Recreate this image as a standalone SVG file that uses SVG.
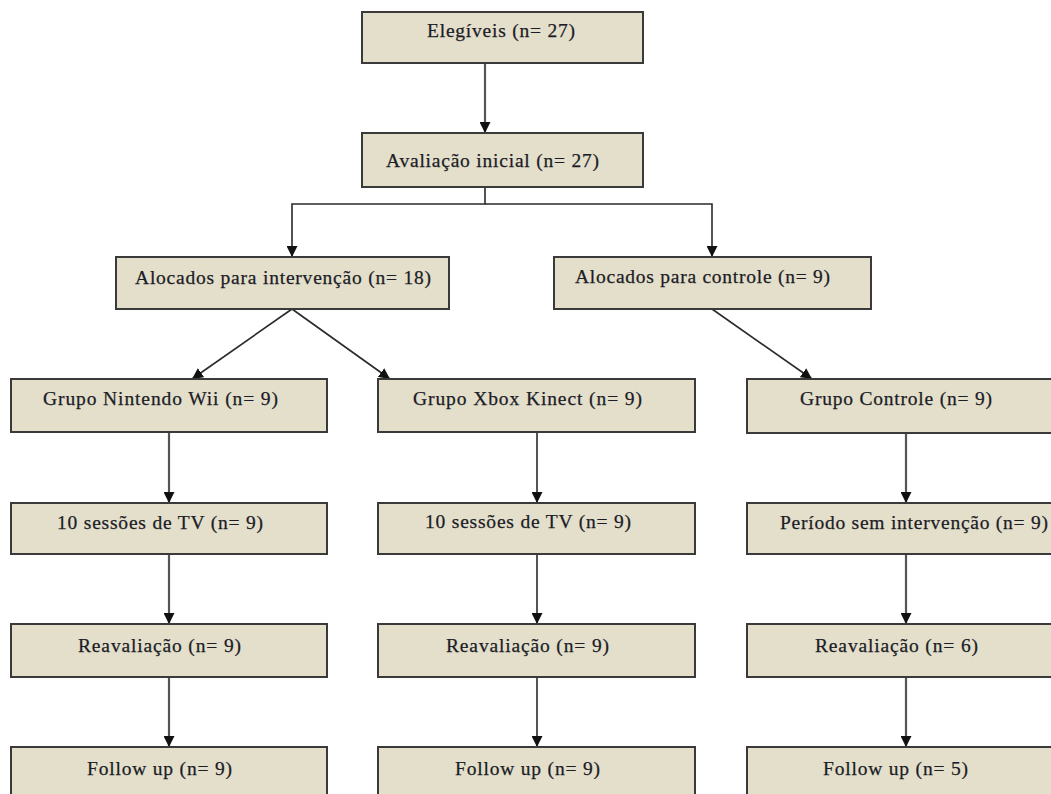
<svg xmlns="http://www.w3.org/2000/svg" width="1051" height="794" viewBox="0 0 1051 794">
<style>
.box{fill:#e3dfcb;stroke:#3a3a3a;stroke-width:2}
.lbl{font-family:"Liberation Serif","Times New Roman",serif;font-size:19.5px;fill:#1c1c26;stroke:#1c1c26;stroke-width:0.25}
.c{fill:none;stroke:#2a2a2a;stroke-width:1.6}
.v{fill:none;stroke:#555;stroke-width:2.2}
</style>
<defs>
<marker id="ah" viewBox="0 0 10 10" refX="10" refY="5" markerWidth="11" markerHeight="11" markerUnits="userSpaceOnUse" orient="auto">
<path d="M0,0 L10,5 L0,10 Z" fill="#111"/>
</marker>
</defs>
<rect width="1051" height="794" fill="#fff"/>
<g id="connectors">
<line class="v" x1="485" y1="63" x2="485" y2="133" marker-end="url(#ah)"/>
<polyline class="c" points="485,187 485,204 292,204 292,257" marker-end="url(#ah)"/>
<polyline class="c" points="485,204 712,204 712,257" marker-end="url(#ah)"/>
<line class="c" x1="292" y1="309" x2="192" y2="379" marker-end="url(#ah)"/>
<line class="c" x1="292" y1="309" x2="390" y2="379" marker-end="url(#ah)"/>
<line class="c" x1="712" y1="309" x2="812" y2="379" marker-end="url(#ah)"/>
<line class="v" x1="169" y1="432" x2="169" y2="503" marker-end="url(#ah)"/>
<line class="v" x1="169" y1="554" x2="169" y2="624" marker-end="url(#ah)"/>
<line class="v" x1="169" y1="677" x2="169" y2="747" marker-end="url(#ah)"/>
<line class="c" x1="537" y1="432" x2="537" y2="503" marker-end="url(#ah)"/>
<line class="c" x1="537" y1="554" x2="537" y2="624" marker-end="url(#ah)"/>
<line class="c" x1="537" y1="677" x2="537" y2="747" marker-end="url(#ah)"/>
<line class="v" x1="906" y1="433" x2="906" y2="503" marker-end="url(#ah)"/>
<line class="v" x1="906" y1="554" x2="906" y2="624" marker-end="url(#ah)"/>
<line class="v" x1="906" y1="677" x2="906" y2="747" marker-end="url(#ah)"/>
</g>
<g id="n-elegiveis"><rect class="box" x="362" y="12" width="281" height="51"/><text class="lbl" x="427" y="37" textLength="148" lengthAdjust="spacing">Elegíveis (n= 27)</text></g>
<g id="n-avaliacao"><rect class="box" x="362" y="133" width="281" height="54"/><text class="lbl" x="386" y="167" textLength="213" lengthAdjust="spacing">Avaliação inicial (n= 27)</text></g>
<g id="n-aloc-int"><rect class="box" x="116" y="257" width="333" height="52"/><text class="lbl" x="135" y="284" textLength="296" lengthAdjust="spacing">Alocados para intervenção (n= 18)</text></g>
<g id="n-aloc-ctrl"><rect class="box" x="554" y="257" width="317" height="52"/><text class="lbl" x="575" y="283" textLength="255" lengthAdjust="spacing">Alocados para controle (n= 9)</text></g>
<g id="n-wii"><rect class="box" x="11" y="379" width="316" height="53"/><text class="lbl" x="43" y="405" textLength="235" lengthAdjust="spacing">Grupo Nintendo Wii (n= 9)</text></g>
<g id="n-xbox"><rect class="box" x="378" y="379" width="317" height="53"/><text class="lbl" x="413" y="405" textLength="229" lengthAdjust="spacing">Grupo Xbox Kinect (n= 9)</text></g>
<g id="n-controle"><rect class="box" x="747" y="379" width="316" height="54"/><text class="lbl" x="800" y="405" textLength="192" lengthAdjust="spacing">Grupo Controle (n= 9)</text></g>
<g id="n-wii-tv"><rect class="box" x="11" y="503" width="316" height="51"/><text class="lbl" x="57" y="529" textLength="206" lengthAdjust="spacing">10 sessões de TV (n= 9)</text></g>
<g id="n-xbox-tv"><rect class="box" x="378" y="503" width="317" height="51"/><text class="lbl" x="425" y="528" textLength="206" lengthAdjust="spacing">10 sessões de TV (n= 9)</text></g>
<g id="n-ctrl-periodo"><rect class="box" x="747" y="503" width="316" height="51"/><text class="lbl" x="780" y="529" textLength="268" lengthAdjust="spacing">Período sem intervenção (n= 9)</text></g>
<g id="n-wii-reav"><rect class="box" x="11" y="624" width="316" height="53"/><text class="lbl" x="78" y="652" textLength="163" lengthAdjust="spacing">Reavaliação (n= 9)</text></g>
<g id="n-xbox-reav"><rect class="box" x="378" y="624" width="317" height="53"/><text class="lbl" x="446" y="652" textLength="163" lengthAdjust="spacing">Reavaliação (n= 9)</text></g>
<g id="n-ctrl-reav"><rect class="box" x="747" y="624" width="316" height="53"/><text class="lbl" x="815" y="652" textLength="163" lengthAdjust="spacing">Reavaliação (n= 6)</text></g>
<g id="n-wii-fu"><rect class="box" x="11" y="747" width="316" height="56"/><text class="lbl" x="87" y="775" textLength="145" lengthAdjust="spacing">Follow up (n= 9)</text></g>
<g id="n-xbox-fu"><rect class="box" x="378" y="747" width="317" height="56"/><text class="lbl" x="455" y="775" textLength="145" lengthAdjust="spacing">Follow up (n= 9)</text></g>
<g id="n-ctrl-fu"><rect class="box" x="747" y="747" width="316" height="56"/><text class="lbl" x="823" y="775" textLength="145" lengthAdjust="spacing">Follow up (n= 5)</text></g>
</svg>
